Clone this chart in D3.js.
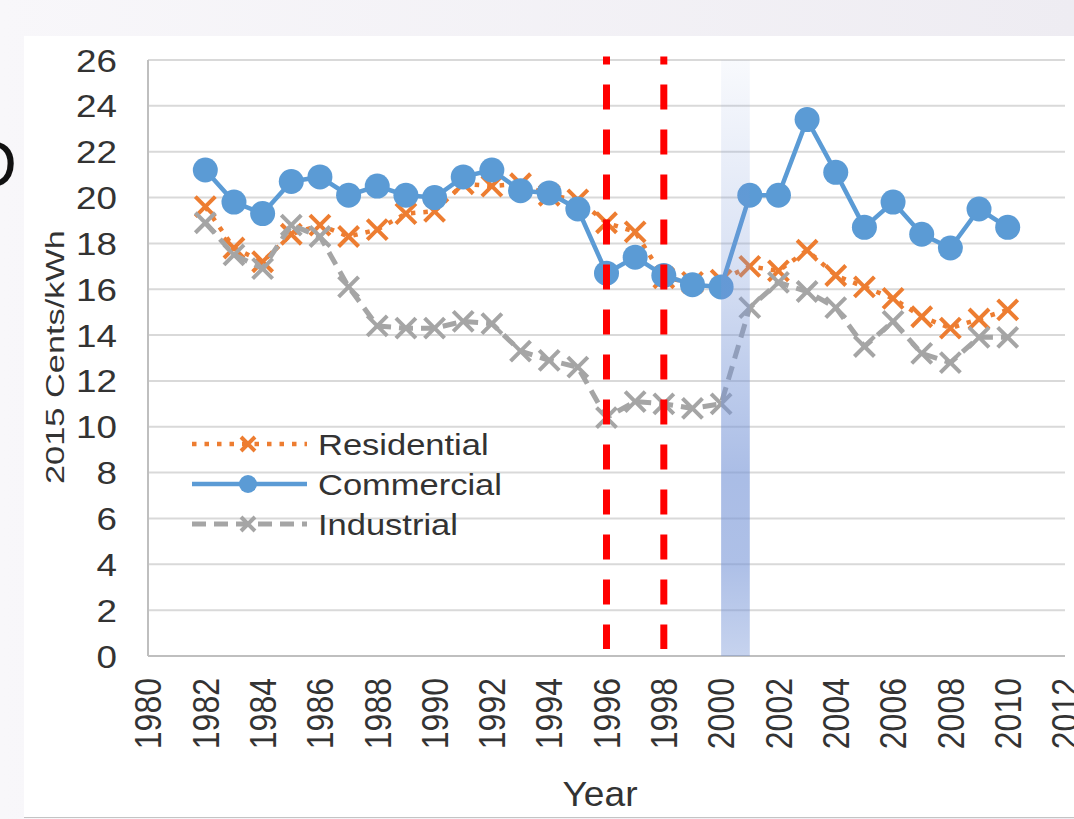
<!DOCTYPE html>
<html>
<head>
<meta charset="utf-8">
<script src="https://cdn.jsdelivr.net/npm/d3@7"></script>
<style>
  html, body { margin: 0; padding: 0; }
  body { width: 1074px; height: 819px; overflow: hidden; }
  text { font-family: "Liberation Sans", Arial, sans-serif; }
</style>
</head>
<body>
<svg id="chart" width="1074" height="819"></svg>
<script>
// Data (2015 cents/kWh)
const years = d3.range(1982, 2011);
const residential = [19.6, 17.8, 17.2, 18.4, 18.8, 18.3, 18.6, 19.3, 19.4, 20.6,
                     20.5, 20.6, 20.1, 19.9, 18.9, 18.5, 16.5, 16.3, 16.4, 17.0,
                     16.8, 17.7, 16.6, 16.1, 15.6, 14.8, 14.3, 14.7, 15.1];
const commercial = [21.2, 19.8, 19.3, 20.7, 20.9, 20.1, 20.5, 20.1, 20.0, 20.9,
                    21.2, 20.3, 20.2, 19.5, 16.7, 17.4, 16.6, 16.2, 16.1, 20.1,
                    20.1, 23.4, 21.1, 18.7, 19.8, 18.4, 17.8, 19.5, 18.7];
const industrial = [18.9, 17.5, 16.9, 18.8, 18.3, 16.1, 14.4, 14.3, 14.3, 14.6,
                    14.5, 13.3, 12.9, 12.6, 10.4, 11.1, 11.0, 10.8, 11.0, 15.2,
                    16.3, 15.9, 15.2, 13.5, 14.6, 13.2, 12.8, 13.9, 13.9];
const xTicks = d3.range(1980, 2013, 2);
const yTicks = d3.range(0, 27, 2);
const markerYears = [1996, 1998];   // red dashed lines
const bandYears = [2000, 2001];     // shaded band

const svg = d3.select("#chart");
const W = 1074, H = 819;

const x = d3.scaleLinear().domain([1980, 2012]).range([148, 1065]);
const y = d3.scaleLinear().domain([0, 26]).range([656, 60]);

// page background and white panel
const defs = svg.append("defs");
const bg = defs.append("linearGradient").attr("id", "bg");
bg.append("stop").attr("offset", "0%").attr("stop-color", "#f8f7fa");
bg.append("stop").attr("offset", "100%").attr("stop-color", "#eeecf2");

const band = defs.append("linearGradient").attr("id", "band")
    .attr("x1", 0).attr("y1", 0).attr("x2", 0).attr("y2", 1);
[[0, 0.05], [0.3, 0.25], [0.5, 0.45], [0.7, 0.63], [0.85, 0.6], [1, 0.42]].forEach(([o, a]) => {
  band.append("stop").attr("offset", o).attr("stop-color", "#7896d7").attr("stop-opacity", a);
});

svg.append("rect").attr("width", W).attr("height", H).attr("fill", "url(#bg)");
svg.append("rect").attr("x", 24).attr("y", 36).attr("width", W - 24).attr("height", 782)
    .attr("fill", "#fff");
svg.append("line").attr("x1", 24).attr("x2", W).attr("y1", 817.5).attr("y2", 817.5)
    .attr("stroke", "#c4c4c4").attr("stroke-width", 1);

// partial slide letter at the left edge
svg.append("text").attr("x", 17).attr("y", 187).attr("text-anchor", "end")
    .style("font-size", "66px").attr("fill", "#111").text("D");

// grid
svg.append("g").selectAll("line").data(yTicks.filter(d => d > 0)).join("line")
    .attr("x1", x(1980)).attr("x2", x(2012))
    .attr("y1", d => y(d)).attr("y2", d => y(d))
    .attr("stroke", "#d9d9d9").attr("stroke-width", 2);

// axes
svg.append("line").attr("x1", x(1980)).attr("x2", x(1980)).attr("y1", y(26)).attr("y2", y(0))
    .attr("stroke", "#bfbfbf").attr("stroke-width", 2);
svg.append("line").attr("x1", x(1980)).attr("x2", x(2012)).attr("y1", y(0)).attr("y2", y(0))
    .attr("stroke", "#bfbfbf").attr("stroke-width", 2);

// y tick labels
svg.append("g").selectAll("text").data(yTicks).join("text")
    .attr("transform", d => `translate(117, ${y(d)}) scale(1.15, 1)`)
    .attr("text-anchor", "end").attr("dy", "0.36em")
    .style("font-size", "32px").attr("fill", "#333")
    .text(d => d);

// x tick labels (rotated)
svg.append("g").selectAll("text").data(xTicks).join("text")
    .attr("transform", d => `translate(${x(d)}, 678) scale(1.15, 1) rotate(-90)`)
    .attr("text-anchor", "end").attr("dy", "0.36em")
    .style("font-size", "32px").attr("fill", "#333")
    .text(d => d);

// axis titles
svg.append("text").attr("x", 600).attr("y", 806).attr("text-anchor", "middle")
    .style("font-size", "35px").attr("fill", "#333")
    .attr("textLength", 75).attr("lengthAdjust", "spacingAndGlyphs")
    .text("Year");
svg.append("text").attr("transform", `translate(64, 357) rotate(-90)`)
    .attr("text-anchor", "middle")
    .style("font-size", "25px").attr("fill", "#333")
    .attr("textLength", 254).attr("lengthAdjust", "spacingAndGlyphs")
    .text("2015 Cents/kWh");

// series
const line = d3.line().x(d => x(d[0])).y(d => y(d[1]));
const xMark = s => `M${-s},${-s}L${s},${s}M${-s},${s}L${s},${-s}`;

const series = [
  { name: "Residential", values: residential, color: "#ed7d31", width: 4.5, dash: "4.5,8", mark: "x" },
  { name: "Commercial", values: commercial, color: "#5b9bd5", width: 4.5, dash: null, mark: "o" },
  { name: "Industrial", values: industrial, color: "#a5a5a5", width: 5, dash: "14,8", mark: "x" }
];

series.forEach(s => {
  const pts = years.map((yr, i) => [yr, s.values[i]]);
  const g = svg.append("g");
  g.append("path").datum(pts).attr("d", line)
      .attr("fill", "none").attr("stroke", s.color).attr("stroke-width", s.width)
      .attr("stroke-dasharray", s.dash).attr("stroke-linejoin", "round");
  if (s.mark === "o") {
    g.selectAll("circle").data(pts).join("circle")
        .attr("cx", d => x(d[0])).attr("cy", d => y(d[1])).attr("r", 12.5)
        .attr("fill", s.color);
  } else {
    g.selectAll("path.m").data(pts).join("path").attr("class", "m")
        .attr("transform", d => `translate(${x(d[0])}, ${y(d[1])})`)
        .attr("d", xMark(10)).attr("stroke", s.color).attr("stroke-width", 4)
        .attr("fill", "none");
  }
});

// red dashed year markers
svg.append("g").selectAll("line").data(markerYears).join("line")
    .attr("x1", d => x(d)).attr("x2", d => x(d))
    .attr("y1", y(26.15)).attr("y2", y(0.3))
    .attr("stroke", "#ff0000").attr("stroke-width", 7)
    .attr("stroke-dasharray", "25,20").attr("stroke-dashoffset", 17);

// shaded band
svg.append("rect")
    .attr("x", x(bandYears[0])).attr("width", x(bandYears[1]) - x(bandYears[0]))
    .attr("y", y(26)).attr("height", y(0) - y(26))
    .attr("fill", "url(#band)");

// legend
const legend = svg.append("g");
series.forEach((s, i) => {
  const ly = 444 + i * 40;
  const row = legend.append("g").attr("transform", `translate(0, ${ly})`);
  row.append("line").attr("x1", 192).attr("x2", 307)
      .attr("stroke", s.color).attr("stroke-width", s.width)
      .attr("stroke-dasharray", s.dash);
  if (s.mark === "o") {
    row.append("circle").attr("cx", 248).attr("r", 9).attr("fill", s.color);
  } else {
    row.append("path").attr("transform", "translate(248, 0)").attr("d", xMark(7))
        .attr("stroke", s.color).attr("stroke-width", 4).attr("fill", "none");
  }
  row.append("text").attr("transform", "translate(318, 11) scale(1.15, 1)")
      .style("font-size", "30px").attr("fill", "#333").text(s.name);
});
</script>
</body>
</html>
